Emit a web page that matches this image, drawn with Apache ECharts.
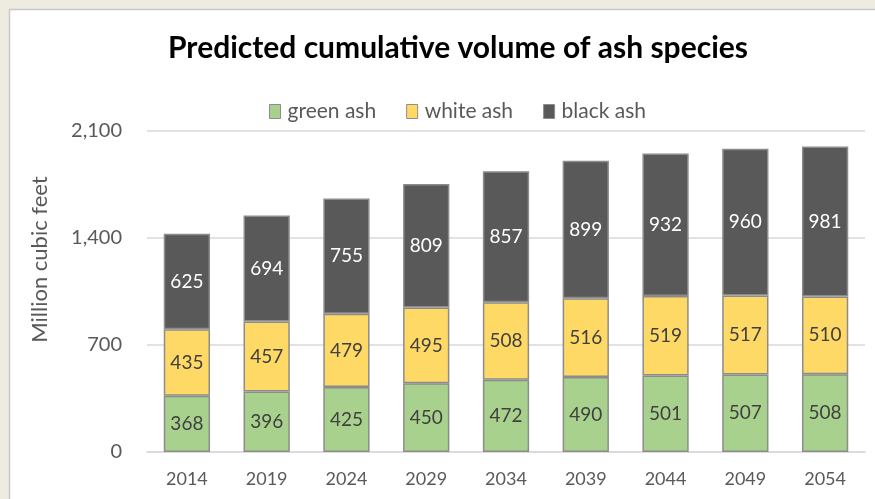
<!DOCTYPE html>
<html>
<head>
<meta charset="utf-8">
<script src="https://cdn.jsdelivr.net/npm/echarts@6/dist/echarts.min.js"></script>
<style>
  html, body { margin: 0; padding: 0; background: #EEECE1; }
  #chart { width: 875px; height: 499px; }
</style>
</head>
<body>
<div id="chart"></div>
<script>
// Survey years and cumulative volume (million cubic feet) per species
const years = ['2014', '2019', '2024', '2029', '2034', '2039', '2044', '2049', '2054'];
const greenAsh = [368, 396, 425, 450, 472, 490, 501, 507, 508];
const whiteAsh = [435, 457, 479, 495, 508, 516, 519, 517, 510];
const blackAsh = [625, 694, 755, 809, 857, 899, 932, 960, 981];
const yTicks = [0, 700, 1400, 2100];

const FONT = 'Lato, "Open Sans", sans-serif';
const chart = echarts.init(document.getElementById('chart'));

function stackSeries(name, data, color, labelColor) {
  return {
    name: name,
    type: 'bar',
    stack: 'volume',
    data: data,
    barWidth: '58%',
    itemStyle: { color: color, borderColor: '#8C8C8C', borderWidth: 1.5 },
    label: {
      show: true,
      position: 'inside',
      color: labelColor,
      fontFamily: FONT,
      fontSize: 19
    },
    emphasis: { disabled: true }
  };
}

chart.setOption({
  backgroundColor: '#EEECE1',
  animation: false,
  graphic: [{
    type: 'rect',
    z: -10,
    shape: { x: 9.5, y: 9.5, width: 900, height: 520 },
    style: { fill: '#FFFFFF', stroke: '#C8C8C8', lineWidth: 1.5 }
  }],
  title: {
    text: 'Predicted cumulative volume of ash species',
    left: 453,
    textAlign: 'center',
    top: 28,
    textStyle: { fontFamily: FONT, fontSize: 30, fontWeight: 'bold', color: '#000000' }
  },
  legend: {
    top: 96,
    left: 264,
    itemWidth: 11,
    itemHeight: 14,
    itemGap: 30,
    icon: 'rect',
    itemStyle: { borderColor: '#8C8C8C', borderWidth: 1 },
    textStyle: { fontFamily: FONT, fontSize: 21, color: '#595959', padding: [0, 0, 0, 2] },
    data: ['green ash', 'white ash', 'black ash']
  },
  grid: { left: 147, right: 10, top: 131, bottom: 47 },
  xAxis: {
    type: 'category',
    data: years,
    axisTick: { show: false },
    axisLine: { lineStyle: { color: '#D9D9D9', width: 1.5 } },
    axisLabel: { fontFamily: FONT, fontSize: 18, color: '#595959', margin: 18 }
  },
  yAxis: {
    type: 'value',
    min: yTicks[0],
    max: yTicks[yTicks.length - 1],
    interval: 700,
    name: 'Million cubic feet',
    nameLocation: 'middle',
    nameGap: 96,
    nameTextStyle: { fontFamily: FONT, fontSize: 22, color: '#595959', padding: [0, 0, 0, 64] },
    axisLine: { show: false },
    axisTick: { show: false },
    splitLine: { lineStyle: { color: '#D9D9D9', width: 1.5 } },
    axisLabel: {
      fontFamily: FONT, fontSize: 20, color: '#595959', margin: 25,
      formatter: v => v.toLocaleString('en-US')
    }
  },
  series: [
    stackSeries('green ash', greenAsh, '#A9D18E', '#404040'),
    stackSeries('white ash', whiteAsh, '#FFD966', '#404040'),
    stackSeries('black ash', blackAsh, '#595959', '#FFFFFF')
  ]
});
</script>
</body>
</html>
